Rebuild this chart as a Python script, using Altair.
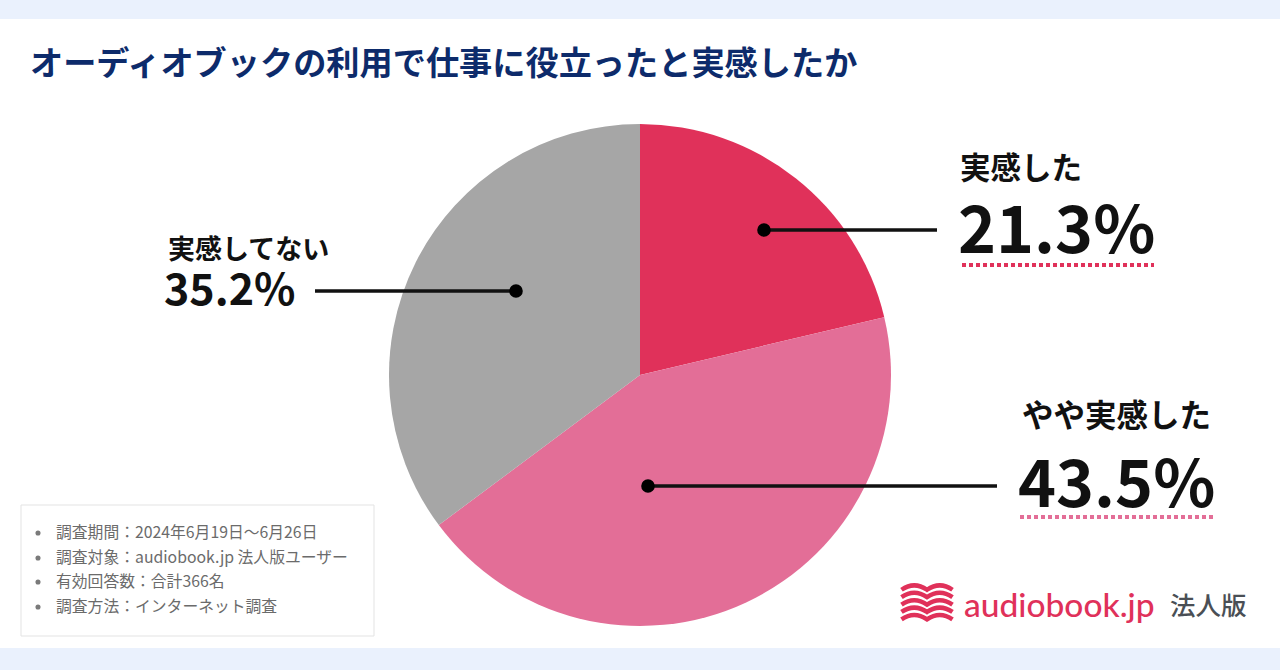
import altair as alt
import pandas as pd

W, H = 1280, 670

# ---- data ----
categories = ["実感した", "やや実感した", "実感してない"]
values = [21.3, 43.5, 35.2]
colors = ["#e0315a", "#e36e97", "#a6a6a6"]

title_text = "オーディオブックの利用で仕事に役立ったと実感したか"
notes = [
    "調査期間：2024年6月19日〜6月26日",
    "調査対象：audiobook.jp 法人版ユーザー",
    "有効回答数：合計366名",
    "調査方法：インターネット調査",
]

# ---- layout (positions / styles only) ----
center_x, center_y, radius = 640, 375, 251
dot_x = [764, 648, 516]
dot_y = [230, 486, 291]
line_end_x = [937, 997, 315]
label_x = [960, 1022, 168]
label_y = [179, 427, 259]
label_fs = [30.5, 31.5, 27]
pct_x = [958, 1018, 164]
pct_y = [253, 507, 305]
pct_fs = [64.5, 64.5, 43]
underline_x = [962, 1020]
underline_x2 = [1154, 1214]
underline_y = [265, 517]
note_y = [533, 558, 582, 607]

FONT = "Noto Sans CJK JP"

xs = alt.Scale(domain=[0, W], range=[0, W], nice=False, zero=False)
ys = alt.Scale(domain=[0, H], range=[0, H], nice=False, zero=False)


def X(f):
    return alt.X(f, type="quantitative", scale=xs, axis=None)


def X2(f):
    return alt.X2(f)


def Y(f):
    return alt.Y(f, type="quantitative", scale=ys, axis=None)


pie_df = pd.DataFrame({"cat": categories, "value": values, "idx": range(len(values))})
ann_df = pd.DataFrame({
    "cat": categories,
    "pct": [f"{v}%" for v in values],
    "dx": dot_x, "dy": dot_y, "lx": line_end_x,
    "tx": label_x, "ty": label_y, "tfs": label_fs,
    "px": pct_x, "py": pct_y, "pfs": pct_fs,
})
ul_df = pd.DataFrame({
    "cat": categories[:2], "x": underline_x, "x2": underline_x2, "y": underline_y,
})
note_df = pd.DataFrame({"t": notes, "y": note_y})
one = pd.DataFrame({"a": [0]})

# background bands
top_band = alt.Chart(one).mark_rect(color="#eaf1fd").encode(
    x=alt.value(0), x2=alt.value(W), y=alt.value(0), y2=alt.value(19))
bot_band = alt.Chart(one).mark_rect(color="#eaf1fd").encode(
    x=alt.value(0), x2=alt.value(W), y=alt.value(648), y2=alt.value(H))

title = alt.Chart(one).mark_text(
    text=title_text, font=FONT, fontSize=33.2, fontWeight="bold",
    color="#0d2b6b", align="left", baseline="alphabetic"
).encode(x=alt.value(30), y=alt.value(75))

color_enc = alt.Color("cat:N", scale=alt.Scale(domain=categories, range=colors), legend=None)

pie = alt.Chart(pie_df).mark_arc(outerRadius=radius).encode(
    theta=alt.Theta("value:Q", stack=True),
    color=color_enc,
    order=alt.Order("idx:Q"),
    x=alt.value(center_x), y=alt.value(center_y),
)

lines = alt.Chart(ann_df).mark_rule(color="#111111", strokeWidth=3.5).encode(
    x=X("dx"), x2=X2("lx"), y=Y("dy"))
dots = alt.Chart(ann_df).mark_point(filled=True, color="#000000", size=185, opacity=1).encode(
    x=X("dx"), y=Y("dy"))

cat_text = alt.Chart(ann_df).mark_text(
    font=FONT, fontWeight="bold", color="#111111", align="left", baseline="alphabetic"
).encode(x=X("tx"), y=Y("ty"), text="cat:N", size=alt.Size("tfs:Q", scale=None))

pct_text = alt.Chart(ann_df).mark_text(
    font=FONT, fontWeight="bold", color="#111111", align="left", baseline="alphabetic"
).encode(x=X("px"), y=Y("py"), text="pct:N", size=alt.Size("pfs:Q", scale=None))

underline = alt.Chart(ul_df).mark_rule(strokeWidth=4, strokeDash=[4, 3]).encode(
    x=X("x"), x2=X2("x2"), y=Y("y"),
    color=color_enc)

note_box = alt.Chart(one).mark_rect(fill="#ffffff", stroke="#e3e3e3", strokeWidth=1).encode(
    x=alt.value(21), x2=alt.value(374), y=alt.value(505), y2=alt.value(636))
note_bullets = alt.Chart(note_df).mark_point(filled=True, color="#7a7a7a", size=26, opacity=1).encode(
    x=alt.value(38), y=Y("y"))
note_text = alt.Chart(note_df).mark_text(
    font=FONT, fontSize=15.8, color="#6b6b6b", align="left", baseline="middle"
).encode(x=alt.value(56), y=Y("y"), text="t:N")

logo_path = " ".join(
    f"M-1,{y+0.1:.2f} Q-0.5,{y-0.24:.2f} 0,{y+0.1:.2f} Q0.5,{y-0.24:.2f} 1,{y+0.1:.2f}"
    for y in [-0.62, -0.33, -0.04, 0.25, 0.54]
)
logo_icon = alt.Chart(one).mark_point(
    shape=logo_path, filled=False, stroke="#e0315a", strokeWidth=4.5, size=51 * 51, opacity=1
).encode(x=alt.value(927), y=alt.value(603))
logo_word = alt.Chart(one).mark_text(
    text="audiobook.jp", font="Lato", fontSize=33.5, fontWeight=500, color="#e0315a",
    align="left", baseline="alphabetic"
).encode(x=alt.value(964), y=alt.value(617))
logo_jp = alt.Chart(one).mark_text(
    text="法人版", font=FONT, fontSize=25.5, fontWeight=500, color="#4a4f55",
    align="left", baseline="alphabetic"
).encode(x=alt.value(1170), y=alt.value(615))

chart = alt.layer(
    top_band, bot_band, title, pie, lines, dots, cat_text, pct_text, underline,
    note_box, note_bullets, note_text, logo_icon, logo_word, logo_jp
).properties(
    width=W, height=H, padding=0, background="#ffffff",
    autosize=alt.AutoSizeParams(type="none"),
).configure_view(stroke=None)

chart.save("out.html", embed_options={"renderer": "svg", "actions": False})
